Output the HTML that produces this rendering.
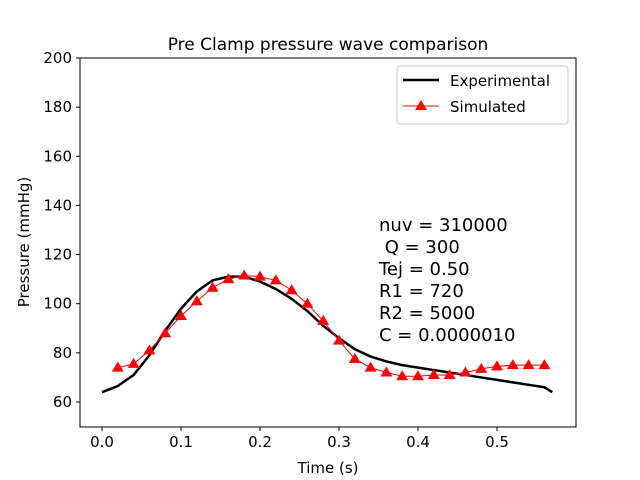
<!DOCTYPE html>
<html><head><meta charset="utf-8"><style>
body{margin:0;background:#fff;}
svg{display:block;font-family:"DejaVu Sans","Liberation Sans",sans-serif;}
</style></head><body>
<svg id="c" width="640" height="480">
<rect width="640" height="480" fill="#fff"/>
<text x="328" y="50" font-size="17" text-anchor="middle">Pre Clamp pressure wave comparison</text>
<g id="plot"></g>
<rect x="80" y="58" width="496" height="369" fill="none" stroke="#000" stroke-width="1"/>
<text x="328" y="473" font-size="15" text-anchor="middle">Time (s)</text>
<text transform="translate(29,242) rotate(-90)" font-size="15" text-anchor="middle">Pressure (mmHg)</text>
<g font-size="18">
<text x="379" y="231">nuv = 310000</text>
<text x="379" y="253">&#160;Q = 300</text>
<text x="379" y="275">Tej = 0.50</text>
<text x="379" y="297">R1 = 720</text>
<text x="379" y="319">R2 = 5000</text>
<text x="379" y="341">C = 0.0000010</text>
</g>
<g>
<rect x="397" y="66" width="171" height="58" rx="3" fill="#fff" stroke="#ccc"/>
<line x1="403" y1="80" x2="439" y2="80" stroke="#000" stroke-width="2.5"/>
<text x="450" y="86" font-size="15">Experimental</text>
<line x1="403" y1="106" x2="439" y2="106" stroke="red" stroke-width="1"/>
<polygon points="421,100 415,110 427,110" fill="red"/>
<text x="450" y="112" font-size="15">Simulated</text>
</g>
</svg>
<script>
const expT=[0,0.02,0.04,0.06,0.08,0.1,0.12,0.14,0.16,0.18,0.2,0.22,0.24,0.26,0.28,0.3,0.32,0.34,0.36,0.38,0.4,0.42,0.44,0.46,0.48,0.5,0.52,0.54,0.56,0.57];
const expP=[64,66.5,71,79,89,98,105,109.5,111,111,109,106,102,97,91,86,81.5,78.5,76.5,75,74,73,72,71,70,69,68,67,66,64];
const simT=[0.02,0.04,0.06,0.08,0.1,0.12,0.14,0.16,0.18,0.2,0.22,0.24,0.26,0.28,0.3,0.32,0.34,0.36,0.38,0.4,0.42,0.44,0.46,0.48,0.5,0.52,0.54,0.56];
const simP=[74,75.5,81,88,95,101,106.5,110,111.5,111,109.5,105.5,100,93,85,77.5,74,72,70.5,70.5,71,71,72,73.5,74.5,75,75,75];
const xTicks=[0,0.1,0.2,0.3,0.4,0.5];
const yTicks=[60,80,100,120,140,160,180,200];
const X=v=>102+v*790, Y=v=>402-(v-60)*344/140;
const NS="http://www.w3.org/2000/svg", g=document.getElementById('plot');
function mk(t,a){const e=document.createElementNS(NS,t);for(const k in a)e.setAttribute(k,a[k]);g.appendChild(e);return e;}
xTicks.forEach(v=>{
 const t=mk('line',{x1:X(v),x2:X(v),y1:427,y2:431,stroke:'#000'});
 
 
 const l=mk('text',{x:X(v),y:447,'font-size':15,'text-anchor':'middle'});l.textContent=v.toFixed(1);
 
 
});
yTicks.forEach(v=>{
 const t=mk('line',{x1:76,x2:80,y1:Y(v),y2:Y(v),stroke:'#000'});
 
 
 const l=mk('text',{x:72,y:Y(v)+5,'font-size':15,'text-anchor':'end'});l.textContent=v;
 
 
});
const e=mk('polyline',{points:expT.map((t,i)=>X(t)+','+Y(expP[i])).join(' '),fill:'none',stroke:'#000','stroke-width':2.5});


const s=mk('polyline',{points:simT.map((t,i)=>X(t)+','+Y(simP[i])).join(' '),fill:'none',stroke:'red','stroke-width':1});


simT.forEach((t,i)=>{
 const x=X(t),y=Y(simP[i]);
 const p=mk('polygon',{points:`${x},${y-6} ${x-6},${y+4} ${x+6},${y+4}`,fill:'red'});
 
 
});
</script>
</body></html>
